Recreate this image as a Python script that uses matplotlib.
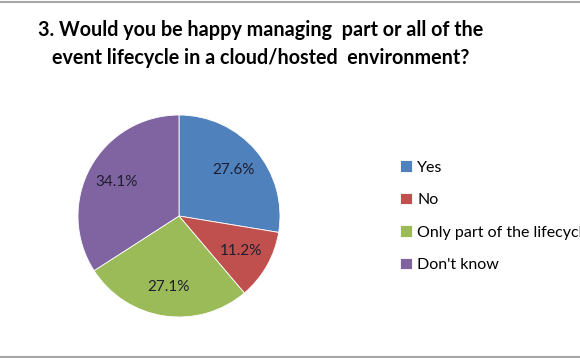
import matplotlib
matplotlib.use("Agg")
from matplotlib import pyplot as plt
from matplotlib.lines import Line2D

# data
categories = ["Yes", "No", "Only part of the lifecycle", "Don't know"]
values = [27.6, 11.2, 27.1, 34.1]
colors = ["#4F81BD", "#C0504D", "#9BBB59", "#8064A2"]
title = "3. Would you be happy managing  part or all of the\nevent lifecycle in a cloud/hosted  environment?"

plt.rcParams['font.family'] = ['Lato', 'DejaVu Sans']

fig = plt.figure(figsize=(5.8, 3.58), dpi=100)
fig.patch.set_facecolor("white")

# pie placed so that it spans roughly x 78..280, y 114..318 (px)
ax = fig.add_axes([78 / 580, 40 / 358, 202 / 580, 204 / 358])
wedges, texts, autotexts = ax.pie(
    values, colors=colors, startangle=90, counterclock=False,
    autopct="%.1f%%", pctdistance=0.71,
    wedgeprops=dict(edgecolor="white", linewidth=0.6),
    textprops=dict(fontsize=11, color="#1e1e2e"))
ax.set_xlim(-1, 1)
ax.set_ylim(-1, 1)
ax.set_aspect("equal")

fig.text(261 / 580, 1 - 44 / 358, title, ha="center", va="center",
         fontsize=14.2, fontweight="bold", linespacing=1.5)

# legend runs off the right edge like in the original slide
fig.legend(wedges, categories, loc="upper left",
           bbox_to_anchor=(386 / 580, 1 - 146 / 358), frameon=False,
           handlelength=0.7, handleheight=0.7, handletextpad=0.35,
           labelspacing=1.15, fontsize=11.5)

# thin gray frame lines top and bottom
fig.add_artist(Line2D([0, 1], [1 - 1.5 / 358] * 2, color="#a6a6a6", lw=1.5))
fig.add_artist(Line2D([0, 1], [1.5 / 358] * 2, color="#a6a6a6", lw=1.5))

plt.savefig("out.png", dpi=100)
